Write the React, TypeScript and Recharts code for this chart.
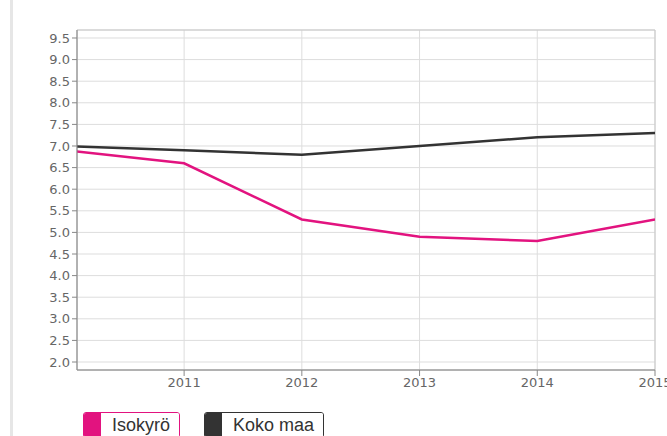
import { CartesianGrid, Line, LineChart, ReferenceArea, XAxis, YAxis } from 'recharts';

// years as numeric x; the first point sits just outside the visible domain
const YEARS = [2010, 2011, 2012, 2013, 2014, 2015];
const ISOKYRO = [6.9, 6.6, 5.3, 4.9, 4.8, 5.3];
const KOKO_MAA = [7.0, 6.9, 6.8, 7.0, 7.2, 7.3];
const X_TICKS = [2011, 2012, 2013, 2014, 2015];
const Y_TICKS = [2.0, 2.5, 3.0, 3.5, 4.0, 4.5, 5.0, 5.5, 6.0, 6.5, 7.0, 7.5, 8.0, 8.5, 9.0, 9.5];

const X_DOMAIN: [number, number] = [2010.09, 2015];
const Y_DOMAIN: [number, number] = [1.815, 9.685];

const PINK = '#e2137f';
const DARK = '#333333';

const rows = YEARS.map((year, i) => ({
  year,
  isokyro: ISOKYRO[i],
  kokoMaa: KOKO_MAA[i],
}));

const tickStyle = { fontSize: 13, fill: '#666', fontFamily: 'DejaVu Sans, sans-serif' };

function LegendItem({ color, label }: { color: string; label: string }) {
  return (
    <div
      style={{
        display: 'flex',
        alignItems: 'stretch',
        height: 24,
        border: `1px solid ${color}`,
        borderRadius: 3,
        overflow: 'hidden',
        marginRight: 24,
      }}
    >
      <div style={{ width: 17, background: color }} />
      <div
        style={{
          padding: '0 9px 0 11px',
          fontSize: 18,
          lineHeight: '24px',
          color: '#333',
          fontFamily: 'Liberation Sans, Arial, sans-serif',
          background: '#fff',
        }}
      >
        {label}
      </div>
    </div>
  );
}

export default function App() {
  return (
    <div style={{ position: 'absolute', left: 0, top: 0, width: 667, height: 436, background: '#fff', overflow: 'hidden' }}>
      <div style={{ position: 'absolute', left: 10, top: 0, width: 3, height: 436, background: '#e6e6e6' }} />
      <LineChart
        width={667}
        height={392}
        data={rows}
        margin={{ top: 30, right: 12, bottom: 0, left: 0 }}
      >
        <CartesianGrid stroke="#dddddd" />
        <ReferenceArea
          x1={X_DOMAIN[0]}
          x2={X_DOMAIN[1]}
          y1={Y_DOMAIN[0]}
          y2={Y_DOMAIN[1]}
          fill="none"
          stroke="#c8c8c8"
        />
        <XAxis
          dataKey="year"
          type="number"
          domain={X_DOMAIN}
          allowDataOverflow
          ticks={X_TICKS}
          height={22}
          tick={tickStyle}
          tickSize={6}
          stroke="#888"
          interval={0}
        />
        <YAxis
          type="number"
          domain={Y_DOMAIN}
          ticks={Y_TICKS}
          width={77}
          tick={tickStyle}
          tickSize={5}
          stroke="#888"
          interval={0}
          tickFormatter={(v: number) => v.toFixed(1)}
        />
        <Line
          dataKey="kokoMaa"
          stroke={DARK}
          strokeWidth={2.5}
          dot={false}
          isAnimationActive={false}
        />
        <Line
          dataKey="isokyro"
          stroke={PINK}
          strokeWidth={2.5}
          dot={false}
          isAnimationActive={false}
        />
      </LineChart>
      <div style={{ position: 'absolute', left: 83, top: 412, display: 'flex' }}>
        <LegendItem color={PINK} label="Isokyrö" />
        <LegendItem color={DARK} label="Koko maa" />
      </div>
    </div>
  );
}
